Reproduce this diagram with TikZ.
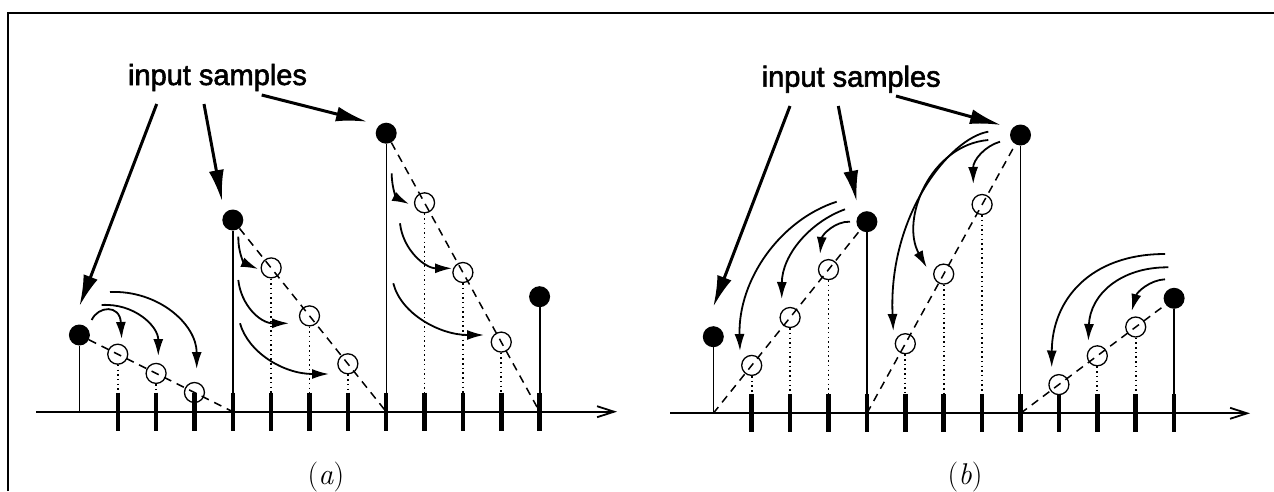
\documentclass[tikz,border=0pt]{standalone}
\usepackage{fontspec}
\newfontfamily\lblfont[FakeBold=2]{Liberation Sans}
\usetikzlibrary{arrows.meta}
\begin{document}
\begin{tikzpicture}[x=1pt,y=-1pt,
  dot/.style={circle,fill=black,inner sep=0pt,minimum size=21pt},
  ring/.style={circle,draw=black,line width=1.3pt,inner sep=0pt,minimum size=20pt},
  stem/.style={line width=1.4pt},
  ticmark/.style={line width=4.5pt},
  axisline/.style={line width=2pt,-{Straight Barb[length=17pt,width=11pt,line width=1.8pt]}},
  interp/.style={line width=1.5pt,dash pattern=on 8pt off 6pt},
  drop/.style={line width=1.7pt,dash pattern=on 1.5pt off 3.2pt},
  bigarrow/.style={line width=3pt,-{Latex[length=31pt,width=15pt]}},
  movearrow/.style={line width=1.8pt,-{Latex[length=17pt,width=10pt]}},
  lbl/.style={font=\lblfont\fontsize{29}{30}\selectfont,anchor=base,inner sep=0pt},
  panelcap/.style={font=\fontsize{30}{30}\selectfont,anchor=base,inner sep=0pt}]
\useasboundingbox (0,0) rectangle (1274,491);
% frame
\draw[line width=2.4pt] (8,491) -- (8,13) -- (1274,13);

%================ panel (a) ================
\coordinate (axA0) at (36,411.7);
\coordinate (axA1) at (617,411.7);
\draw[axisline] (axA0) -- (axA1);
\foreach \n/\x in {1/117.75,2/156.1,3/194.45,4/232.8,5/271.15,6/309.5,7/347.85,8/386.2,9/424.55,10/462.9,11/501.25,12/539.6}{
  \coordinate (tA\n) at (\x,392.7);
  \coordinate (bA\n) at (\x,430.7);
  \draw[ticmark] (tA\n) -- (bA\n);
}
\coordinate (zA0) at (79.4,411.7);
\coordinate (zA4) at (232.8,411.7);
\coordinate (zA8) at (386.2,411.7);
\coordinate (zA12) at (539.6,411.7);

\node[dot] (A0) at (79.4,335) {};
\node[dot] (A4) at (232.8,220) {};
\node[dot] (A8) at (386.2,133.2) {};
\node[dot] (A12) at (539.6,296.7) {};

\node[ring] (A1) at (117.75,354.2) {};
\node[ring] (A2) at (156.1,373.4) {};
\node[ring] (A3) at (194.45,392.5) {};
\node[ring] (A5) at (271.15,267.9) {};
\node[ring] (A6) at (309.5,315.9) {};
\node[ring] (A7) at (347.85,363.8) {};
\node[ring] (A9) at (424.55,202.8) {};
\node[ring] (A10) at (462.9,272.5) {};
\node[ring] (A11) at (501.25,342.1) {};

\draw[line width=1.1pt] (A0) -- (zA0);
\draw[stem] (A4) -- (zA4);
\draw[stem] (A8) -- (zA8);
\draw[line width=2.2pt] (A12) -- (zA12);

\draw[interp] (A0) -- (zA4);
\draw[interp] (A4) -- (zA8);
\draw[interp] (A8) -- (zA12);

\foreach \n in {1,2,5,6,7,9,10,11}{ \draw[drop] (A\n) -- (tA\n); }

\node[lbl] (labA) at (217.5,85) {input samples};
\coordinate (sA1) at (156.7,104);  \coordinate (eA1) at (79.5,306);
\coordinate (sA2) at (204,104);    \coordinate (eA2) at (222,201);
\coordinate (sA3) at (261.7,95);   \coordinate (eA3) at (367,121.7);
\draw[bigarrow] (sA1) -- (eA1);
\draw[bigarrow] (sA2) -- (eA2);
\draw[bigarrow] (sA3) -- (eA3);

% moving arrows, group 1
\coordinate (mA1s) at (91.7,320);  \coordinate (mA1e) at (121.7,339);
\coordinate (mA2s) at (101.7,305); \coordinate (mA2e) at (158.3,356);
\coordinate (mA3s) at (110,292);   \coordinate (mA3e) at (196.7,369);
\draw[movearrow] (mA1s) .. controls (98,306) and (120,304) .. (mA1e);
\draw[movearrow] (mA2s) .. controls (134,303) and (158.3,326) .. (mA2e);
\draw[movearrow] (mA3s) .. controls (158,290) and (196.7,324) .. (mA3e);
% group 2
\coordinate (mB1s) at (238.3,236.7); \coordinate (mB1e) at (258,269);
\coordinate (mB2s) at (238.3,280);   \coordinate (mB2e) at (289,323.3);
\coordinate (mB3s) at (240,323.3);   \coordinate (mB3e) at (329,374);
\draw[movearrow] (mB1s) .. controls (238,252) and (244,263) .. (mB1e);
\draw[movearrow] (mB2s) .. controls (241,305) and (260,323.3) .. (mB2e);
\draw[movearrow] (mB3s) .. controls (248,352) and (283,374) .. (mB3e);
% group 3
\coordinate (mC1s) at (391.7,173.3); \coordinate (mC1e) at (409,204);
\coordinate (mC2s) at (400,223.3);   \coordinate (mC2e) at (452,268.3);
\coordinate (mC3s) at (393.3,283.3); \coordinate (mC3e) at (484,335);
\draw[movearrow] (mC1s) .. controls (391.7,189) and (397,198) .. (mC1e);
\draw[movearrow] (mC2s) .. controls (403,250) and (425,268.3) .. (mC2e);
\draw[movearrow] (mC3s) .. controls (401,314) and (440,335) .. (mC3e);

\node[panelcap] (capA) at (326,484.5) {(\textit{a})};

%================ panel (b) ================
\coordinate (axB0) at (670,413.3);
\coordinate (axB1) at (1250,413.3);
\draw[axisline] (axB0) -- (axB1);
\foreach \n/\x in {1/751.7,2/790.1,3/828.5,4/866.9,5/905.3,6/943.7,7/982.1,8/1020.5,9/1058.9,10/1097.3,11/1135.7,12/1174.1}{
  \coordinate (tB\n) at (\x,394.3);
  \coordinate (bB\n) at (\x,432.3);
  \draw[ticmark] (tB\n) -- (bB\n);
}
\coordinate (zB0) at (713.3,413.3);
\coordinate (zB4) at (866.9,413.3);
\coordinate (zB8) at (1020.5,413.3);
\coordinate (zB12) at (1174.1,413.3);

\node[dot] (B0) at (713.3,336.7) {};
\node[dot] (B4) at (866.9,221.7) {};
\node[dot] (B8) at (1020.5,135) {};
\node[dot] (B12) at (1174.1,298.3) {};

\node[ring] (B1) at (751.7,365.4) {};
\node[ring] (B2) at (790.1,317.5) {};
\node[ring] (B3) at (828.5,269.6) {};
\node[ring] (B5) at (905.3,343.7) {};
\node[ring] (B6) at (943.7,274.1) {};
\node[ring] (B7) at (982.1,204.5) {};
\node[ring] (B9) at (1058.9,384.6) {};
\node[ring] (B10) at (1097.3,355.8) {};
\node[ring] (B11) at (1135.7,327) {};

\draw[line width=1.1pt] (B0) -- (zB0);
\draw[stem] (B4) -- (zB4);
\draw[stem] (B8) -- (zB8);
\draw[line width=2.2pt] (B12) -- (zB12);

\draw[interp] (zB0) -- (B4);
\draw[interp] (zB4) -- (B8);
\draw[interp] (zB8) -- (B12);

\foreach \n in {1,2,3,5,6,7,9,10,11}{ \draw[drop] (B\n) -- (tB\n); }

\node[lbl] (labB) at (851.2,86.7) {input samples};
\coordinate (sB1) at (790,106);    \coordinate (eB1) at (713.3,306.7);
\coordinate (sB2) at (838.3,106);  \coordinate (eB2) at (856.7,201.7);
\coordinate (sB3) at (896,96);     \coordinate (eB3) at (1001,125);
\draw[bigarrow] (sB1) -- (eB1);
\draw[bigarrow] (sB2) -- (eB2);
\draw[bigarrow] (sB3) -- (eB3);

% group 1
\coordinate (mD1s) at (850,221.7);   \coordinate (mD1e) at (820,254);
\coordinate (mD2s) at (845,209.3);   \coordinate (mD2e) at (781.7,299);
\coordinate (mD3s) at (836.7,201.7); \coordinate (mD3e) at (740,351);
\draw[movearrow] (mD1s) .. controls (835,221) and (822,235) .. (mD1e);
\draw[movearrow] (mD2s) .. controls (810,222) and (782,255) .. (mD2e);
\draw[movearrow] (mD3s) .. controls (780,220) and (738,280) .. (mD3e);
% group 2
\coordinate (mF1s) at (1000,141.7);  \coordinate (mF1e) at (973.3,184);
\coordinate (mF2s) at (988.3,140);   \coordinate (mF2e) at (926.7,267.5);
\coordinate (mF3s) at (988.3,131.7); \coordinate (mF3e) at (893.3,331);
\draw[movearrow] (mF1s) .. controls (985,146) and (973,160) .. (mF1e);
\draw[movearrow] (mF2s) .. controls (930,145) and (900,220) .. (mF2e);
\draw[movearrow] (mF3s) .. controls (950,138) and (888,215) .. (mF3e);
% group 3
\coordinate (mE1s) at (1165,279.3);  \coordinate (mE1e) at (1131.7,311);
\coordinate (mE2s) at (1168.3,267.3);\coordinate (mE2e) at (1088.3,341);
\coordinate (mE3s) at (1165,254);    \coordinate (mE3e) at (1051.7,367.5);
\draw[movearrow] (mE1s) .. controls (1150,280) and (1137,292) .. (mE1e);
\draw[movearrow] (mE2s) .. controls (1120,267) and (1090,295) .. (mE2e);
\draw[movearrow] (mE3s) .. controls (1090,254) and (1052,300) .. (mE3e);

\node[panelcap] (capB) at (965,484.5) {(\textit{b})};
\end{tikzpicture}
\end{document}
